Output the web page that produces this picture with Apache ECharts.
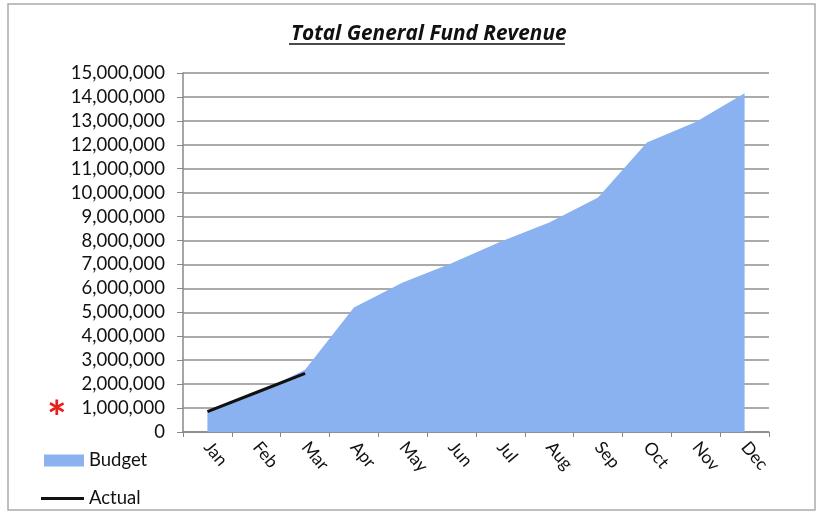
<!DOCTYPE html>
<html>
<head>
<meta charset="utf-8">
<script src="https://cdn.jsdelivr.net/npm/echarts@6/dist/echarts.min.js"></script>
<style>html,body{margin:0;padding:0;background:#fff}#c{width:822px;height:514px}</style>
</head>
<body>
<div id="c"></div>
<script>
const months = ['Jan','Feb','Mar','Apr','May','Jun','Jul','Aug','Sep','Oct','Nov','Dec'];
const budget = [820000, 1600000, 2600000, 5200000, 6250000, 7050000, 7950000, 8750000, 9800000, 12100000, 12950000, 14150000];
const actual = [850000, 1650000, 2450000];
const yMin = 0, yMax = 15000000, yStep = 1000000;

const FONT = 'Lato, "Open Sans", sans-serif';
const chart = echarts.init(document.getElementById('c'), null, {renderer: 'canvas'});
chart.setOption({
  backgroundColor: '#fff',
  animation: false,
  textStyle: {fontFamily: FONT},
  title: {
    text: 'Total General Fund Revenue',
    left: 286, top: 19,
    textStyle: {fontFamily: '"Open Sans", sans-serif', fontSize: 20.8, fontWeight: 'bold', fontStyle: 'italic', color: '#111'}
  },
  grid: {left: 183, right: 53, top: 73, bottom: 82},
  legend: [
    {data: [{name: 'Budget', icon: 'rect'}], left: 39, top: 446, orient: 'vertical', itemWidth: 40, itemHeight: 12, itemGap: 6,
     textStyle: {fontFamily: FONT, fontSize: 18.5, color: '#111'}},
    {data: [{name: 'Actual', icon: 'rect'}], left: 36, top: 484, orient: 'vertical', itemWidth: 43, itemHeight: 3,
     textStyle: {fontFamily: FONT, fontSize: 18.5, color: '#111'}}
  ],
  xAxis: {
    type: 'category', data: months, boundaryGap: true,
    axisLine: {lineStyle: {color: '#888', width: 1.5}},
    axisTick: {show: true, length: 5, lineStyle: {color: '#888'}},
    axisLabel: {rotate: -50, fontSize: 17.5, color: '#111', margin: 12, fontFamily: FONT}
  },
  yAxis: {
    type: 'value', min: yMin, max: yMax, interval: yStep,
    axisLine: {show: true, lineStyle: {color: '#888', width: 1.5}},
    axisTick: {show: true, length: 6, lineStyle: {color: '#888'}},
    axisLabel: {fontSize: 18.5, color: '#111', margin: 18, fontFamily: FONT,
      formatter: v => v.toLocaleString('en-US')},
    splitLine: {lineStyle: {color: '#8f8f8f', width: 1.5}}
  },
  series: [
    {name: 'Budget', type: 'line', data: budget, symbol: 'none',
     itemStyle: {color: '#8ab1f0'},
     lineStyle: {width: 0, color: '#8ab1f0'},
     areaStyle: {color: '#8ab1f0', opacity: 1}, z: 2},
    {name: 'Actual', type: 'line', data: actual, symbol: 'none',
     itemStyle: {color: '#111'},
     lineStyle: {width: 3, color: '#111'}, z: 3}
  ],
  graphic: [
    {type: 'rect', shape: {x: 8, y: 4, width: 807, height: 506}, style: {fill: 'none', stroke: '#aaa', lineWidth: 1.5}, silent: true},
    {type: 'line', shape: {x1: 289, y1: 44, x2: 565, y2: 44}, style: {stroke: '#111', lineWidth: 1.5}},
    {type: 'text', left: 47, top: 396, style: {text: '*', fill: '#e8201c', font: 'bold 46px ' + FONT}}
  ]
});
</script>
</body>
</html>
